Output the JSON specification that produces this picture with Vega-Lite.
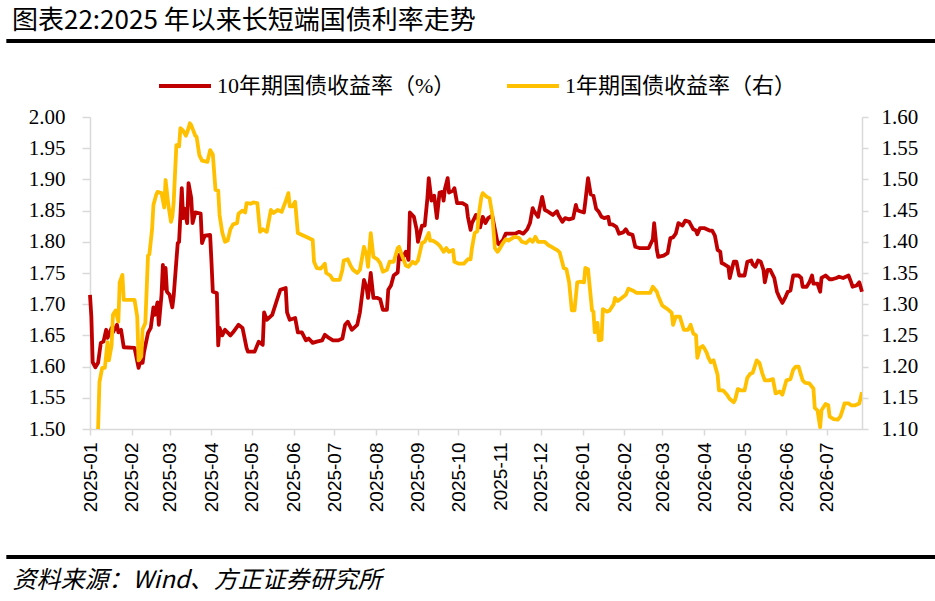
{
  "$schema": "https://vega.github.io/schema/vega-lite/v6.json",
  "width": 772,
  "height": 312,
  "autosize": {"type": "none"},
  "padding": {"left": 90, "top": 117, "right": 73, "bottom": 172},
  "background": "white",
  "title": {
    "text": "图表22:2025 年以来长短端国债利率走势",
    "anchor": "start",
    "frame": "group",
    "dx": -78,
    "offset": 5,
    "font": "Noto Sans CJK SC",
    "fontSize": 26,
    "fontWeight": "normal",
    "color": "#000000"
  },
  "datasets": {
    "cgb10": [
      {"date": "2025-01-01", "yield": 1.715}, {"date": "2025-01-02", "yield": 1.68}, {"date": "2025-01-03", "yield": 1.607},
      {"date": "2025-01-05", "yield": 1.599}, {"date": "2025-01-07", "yield": 1.606}, {"date": "2025-01-09", "yield": 1.638},
      {"date": "2025-01-11", "yield": 1.64}, {"date": "2025-01-13", "yield": 1.659}, {"date": "2025-01-14", "yield": 1.646},
      {"date": "2025-01-17", "yield": 1.662}, {"date": "2025-01-18", "yield": 1.655}, {"date": "2025-01-21", "yield": 1.667},
      {"date": "2025-01-22", "yield": 1.655}, {"date": "2025-01-24", "yield": 1.659}, {"date": "2025-01-26", "yield": 1.631},
      {"date": "2025-02-03", "yield": 1.63}, {"date": "2025-02-06", "yield": 1.598}, {"date": "2025-02-07", "yield": 1.606},
      {"date": "2025-02-09", "yield": 1.606}, {"date": "2025-02-10", "yield": 1.623}, {"date": "2025-02-13", "yield": 1.654},
      {"date": "2025-02-15", "yield": 1.662}, {"date": "2025-02-17", "yield": 1.695}, {"date": "2025-02-18", "yield": 1.683},
      {"date": "2025-02-20", "yield": 1.703}, {"date": "2025-02-21", "yield": 1.667}, {"date": "2025-02-23", "yield": 1.715},
      {"date": "2025-02-24", "yield": 1.763}, {"date": "2025-02-25", "yield": 1.725}, {"date": "2025-02-26", "yield": 1.758},
      {"date": "2025-02-27", "yield": 1.72}, {"date": "2025-03-01", "yield": 1.715}, {"date": "2025-03-03", "yield": 1.695},
      {"date": "2025-03-04", "yield": 1.713}, {"date": "2025-03-07", "yield": 1.798}, {"date": "2025-03-08", "yield": 1.80},
      {"date": "2025-03-10", "yield": 1.886}, {"date": "2025-03-11", "yield": 1.838}, {"date": "2025-03-12", "yield": 1.853},
      {"date": "2025-03-14", "yield": 1.83}, {"date": "2025-03-15", "yield": 1.894}, {"date": "2025-03-17", "yield": 1.87},
      {"date": "2025-03-18", "yield": 1.83}, {"date": "2025-03-20", "yield": 1.847}, {"date": "2025-03-24", "yield": 1.845},
      {"date": "2025-03-25", "yield": 1.798}, {"date": "2025-03-27", "yield": 1.81}, {"date": "2025-03-31", "yield": 1.811},
      {"date": "2025-04-01", "yield": 1.768}, {"date": "2025-04-02", "yield": 1.72}, {"date": "2025-04-05", "yield": 1.718},
      {"date": "2025-04-06", "yield": 1.634}, {"date": "2025-04-07", "yield": 1.662}, {"date": "2025-04-09", "yield": 1.65},
      {"date": "2025-04-11", "yield": 1.659}, {"date": "2025-04-15", "yield": 1.65}, {"date": "2025-04-17", "yield": 1.655},
      {"date": "2025-04-21", "yield": 1.667}, {"date": "2025-04-24", "yield": 1.662}, {"date": "2025-04-27", "yield": 1.63},
      {"date": "2025-04-28", "yield": 1.624}, {"date": "2025-05-03", "yield": 1.624}, {"date": "2025-05-06", "yield": 1.64},
      {"date": "2025-05-09", "yield": 1.635}, {"date": "2025-05-10", "yield": 1.687}, {"date": "2025-05-12", "yield": 1.675},
      {"date": "2025-05-16", "yield": 1.683}, {"date": "2025-05-20", "yield": 1.71}, {"date": "2025-05-22", "yield": 1.723},
      {"date": "2025-05-26", "yield": 1.726}, {"date": "2025-05-27", "yield": 1.687}, {"date": "2025-05-29", "yield": 1.675},
      {"date": "2025-06-02", "yield": 1.678}, {"date": "2025-06-04", "yield": 1.655}, {"date": "2025-06-07", "yield": 1.655},
      {"date": "2025-06-10", "yield": 1.642}, {"date": "2025-06-12", "yield": 1.645}, {"date": "2025-06-15", "yield": 1.638},
      {"date": "2025-06-18", "yield": 1.64}, {"date": "2025-06-22", "yield": 1.642}, {"date": "2025-06-24", "yield": 1.651},
      {"date": "2025-06-27", "yield": 1.646}, {"date": "2025-06-30", "yield": 1.642}, {"date": "2025-07-04", "yield": 1.642},
      {"date": "2025-07-07", "yield": 1.645}, {"date": "2025-07-09", "yield": 1.667}, {"date": "2025-07-11", "yield": 1.672},
      {"date": "2025-07-14", "yield": 1.659}, {"date": "2025-07-18", "yield": 1.667}, {"date": "2025-07-20", "yield": 1.687},
      {"date": "2025-07-23", "yield": 1.739}, {"date": "2025-07-25", "yield": 1.726}, {"date": "2025-07-26", "yield": 1.71},
      {"date": "2025-07-28", "yield": 1.75}, {"date": "2025-07-30", "yield": 1.71}, {"date": "2025-08-02", "yield": 1.71},
      {"date": "2025-08-04", "yield": 1.708}, {"date": "2025-08-06", "yield": 1.691}, {"date": "2025-08-09", "yield": 1.691},
      {"date": "2025-08-10", "yield": 1.723}, {"date": "2025-08-12", "yield": 1.73}, {"date": "2025-08-14", "yield": 1.746},
      {"date": "2025-08-17", "yield": 1.751}, {"date": "2025-08-18", "yield": 1.779}, {"date": "2025-08-20", "yield": 1.772},
      {"date": "2025-08-23", "yield": 1.784}, {"date": "2025-08-25", "yield": 1.771}, {"date": "2025-08-26", "yield": 1.847},
      {"date": "2025-08-29", "yield": 1.84}, {"date": "2025-08-31", "yield": 1.82}, {"date": "2025-09-01", "yield": 1.80},
      {"date": "2025-09-04", "yield": 1.826}, {"date": "2025-09-06", "yield": 1.826}, {"date": "2025-09-08", "yield": 1.87},
      {"date": "2025-09-09", "yield": 1.902}, {"date": "2025-09-11", "yield": 1.866}, {"date": "2025-09-13", "yield": 1.874},
      {"date": "2025-09-15", "yield": 1.838}, {"date": "2025-09-17", "yield": 1.879}, {"date": "2025-09-19", "yield": 1.88},
      {"date": "2025-09-20", "yield": 1.866}, {"date": "2025-09-21", "yield": 1.885}, {"date": "2025-09-23", "yield": 1.902},
      {"date": "2025-09-24", "yield": 1.879}, {"date": "2025-09-27", "yield": 1.882}, {"date": "2025-09-28", "yield": 1.886},
      {"date": "2025-09-30", "yield": 1.862}, {"date": "2025-10-04", "yield": 1.862}, {"date": "2025-10-07", "yield": 1.858},
      {"date": "2025-10-08", "yield": 1.84}, {"date": "2025-10-10", "yield": 1.819}, {"date": "2025-10-11", "yield": 1.83},
      {"date": "2025-10-14", "yield": 1.843}, {"date": "2025-10-16", "yield": 1.835}, {"date": "2025-10-17", "yield": 1.823},
      {"date": "2025-10-19", "yield": 1.84}, {"date": "2025-10-21", "yield": 1.83}, {"date": "2025-10-23", "yield": 1.838},
      {"date": "2025-10-26", "yield": 1.842}, {"date": "2025-10-28", "yield": 1.82}, {"date": "2025-10-30", "yield": 1.798},
      {"date": "2025-10-31", "yield": 1.796}, {"date": "2025-11-03", "yield": 1.803}, {"date": "2025-11-05", "yield": 1.813},
      {"date": "2025-11-09", "yield": 1.813}, {"date": "2025-11-12", "yield": 1.813}, {"date": "2025-11-15", "yield": 1.816},
      {"date": "2025-11-18", "yield": 1.813}, {"date": "2025-11-21", "yield": 1.82}, {"date": "2025-11-23", "yield": 1.83},
      {"date": "2025-11-25", "yield": 1.854}, {"date": "2025-11-26", "yield": 1.849}, {"date": "2025-11-29", "yield": 1.84},
      {"date": "2025-11-30", "yield": 1.852}, {"date": "2025-12-02", "yield": 1.872}, {"date": "2025-12-04", "yield": 1.851},
      {"date": "2025-12-06", "yield": 1.849}, {"date": "2025-12-08", "yield": 1.846}, {"date": "2025-12-10", "yield": 1.843},
      {"date": "2025-12-13", "yield": 1.849}, {"date": "2025-12-14", "yield": 1.843}, {"date": "2025-12-17", "yield": 1.832},
      {"date": "2025-12-19", "yield": 1.838}, {"date": "2025-12-22", "yield": 1.836}, {"date": "2025-12-25", "yield": 1.838},
      {"date": "2025-12-27", "yield": 1.859}, {"date": "2025-12-28", "yield": 1.851}, {"date": "2025-12-30", "yield": 1.849},
      {"date": "2026-01-02", "yield": 1.847}, {"date": "2026-01-03", "yield": 1.864}, {"date": "2026-01-05", "yield": 1.902},
      {"date": "2026-01-07", "yield": 1.876}, {"date": "2026-01-09", "yield": 1.874}, {"date": "2026-01-11", "yield": 1.853},
      {"date": "2026-01-13", "yield": 1.848}, {"date": "2026-01-15", "yield": 1.84}, {"date": "2026-01-17", "yield": 1.838},
      {"date": "2026-01-20", "yield": 1.84}, {"date": "2026-01-21", "yield": 1.828}, {"date": "2026-01-23", "yield": 1.828},
      {"date": "2026-01-26", "yield": 1.824}, {"date": "2026-01-28", "yield": 1.813}, {"date": "2026-01-31", "yield": 1.815},
      {"date": "2026-02-02", "yield": 1.82}, {"date": "2026-02-04", "yield": 1.813}, {"date": "2026-02-07", "yield": 1.811},
      {"date": "2026-02-09", "yield": 1.792}, {"date": "2026-02-12", "yield": 1.79}, {"date": "2026-02-15", "yield": 1.79},
      {"date": "2026-02-19", "yield": 1.79}, {"date": "2026-02-22", "yield": 1.804}, {"date": "2026-02-23", "yield": 1.83},
      {"date": "2026-02-25", "yield": 1.787}, {"date": "2026-02-26", "yield": 1.776}, {"date": "2026-03-02", "yield": 1.778},
      {"date": "2026-03-05", "yield": 1.782}, {"date": "2026-03-07", "yield": 1.806}, {"date": "2026-03-09", "yield": 1.807},
      {"date": "2026-03-11", "yield": 1.813}, {"date": "2026-03-13", "yield": 1.83}, {"date": "2026-03-16", "yield": 1.826},
      {"date": "2026-03-18", "yield": 1.834}, {"date": "2026-03-21", "yield": 1.832}, {"date": "2026-03-24", "yield": 1.82},
      {"date": "2026-03-26", "yield": 1.818}, {"date": "2026-03-27", "yield": 1.812}, {"date": "2026-03-29", "yield": 1.822},
      {"date": "2026-04-01", "yield": 1.822}, {"date": "2026-04-03", "yield": 1.82}, {"date": "2026-04-05", "yield": 1.818},
      {"date": "2026-04-07", "yield": 1.818}, {"date": "2026-04-09", "yield": 1.81}, {"date": "2026-04-11", "yield": 1.787},
      {"date": "2026-04-13", "yield": 1.784}, {"date": "2026-04-14", "yield": 1.766}, {"date": "2026-04-16", "yield": 1.764},
      {"date": "2026-04-19", "yield": 1.76}, {"date": "2026-04-20", "yield": 1.742}, {"date": "2026-04-22", "yield": 1.76},
      {"date": "2026-04-23", "yield": 1.768}, {"date": "2026-04-25", "yield": 1.768}, {"date": "2026-04-27", "yield": 1.746},
      {"date": "2026-05-01", "yield": 1.746}, {"date": "2026-05-03", "yield": 1.768}, {"date": "2026-05-06", "yield": 1.77},
      {"date": "2026-05-07", "yield": 1.764}, {"date": "2026-05-09", "yield": 1.76}, {"date": "2026-05-11", "yield": 1.77},
      {"date": "2026-05-13", "yield": 1.768}, {"date": "2026-05-15", "yield": 1.755}, {"date": "2026-05-16", "yield": 1.735},
      {"date": "2026-05-18", "yield": 1.755}, {"date": "2026-05-20", "yield": 1.755}, {"date": "2026-05-23", "yield": 1.742},
      {"date": "2026-05-25", "yield": 1.72}, {"date": "2026-05-27", "yield": 1.71}, {"date": "2026-05-29", "yield": 1.702},
      {"date": "2026-05-31", "yield": 1.71}, {"date": "2026-06-02", "yield": 1.72}, {"date": "2026-06-04", "yield": 1.722},
      {"date": "2026-06-06", "yield": 1.746}, {"date": "2026-06-10", "yield": 1.746}, {"date": "2026-06-12", "yield": 1.742},
      {"date": "2026-06-13", "yield": 1.728}, {"date": "2026-06-16", "yield": 1.728}, {"date": "2026-06-18", "yield": 1.735},
      {"date": "2026-06-20", "yield": 1.746}, {"date": "2026-06-21", "yield": 1.733}, {"date": "2026-06-24", "yield": 1.733},
      {"date": "2026-06-26", "yield": 1.72}, {"date": "2026-06-27", "yield": 1.742}, {"date": "2026-06-30", "yield": 1.746},
      {"date": "2026-07-03", "yield": 1.74}, {"date": "2026-07-05", "yield": 1.74}, {"date": "2026-07-08", "yield": 1.742},
      {"date": "2026-07-10", "yield": 1.744}, {"date": "2026-07-13", "yield": 1.742}, {"date": "2026-07-15", "yield": 1.744},
      {"date": "2026-07-17", "yield": 1.746}, {"date": "2026-07-19", "yield": 1.735}, {"date": "2026-07-20", "yield": 1.728},
      {"date": "2026-07-23", "yield": 1.73}, {"date": "2026-07-25", "yield": 1.735}, {"date": "2026-07-27", "yield": 1.72}
    ],
    "cgb1": [
      {"date": "2025-01-01", "yield": 1.10}, {"date": "2025-01-03", "yield": 1.07}, {"date": "2025-01-06", "yield": 1.09},
      {"date": "2025-01-07", "yield": 1.10}, {"date": "2025-01-08", "yield": 1.175}, {"date": "2025-01-10", "yield": 1.198},
      {"date": "2025-01-12", "yield": 1.198}, {"date": "2025-01-14", "yield": 1.239}, {"date": "2025-01-15", "yield": 1.21},
      {"date": "2025-01-17", "yield": 1.234}, {"date": "2025-01-18", "yield": 1.283}, {"date": "2025-01-20", "yield": 1.29},
      {"date": "2025-01-22", "yield": 1.272}, {"date": "2025-01-23", "yield": 1.335}, {"date": "2025-01-25", "yield": 1.347},
      {"date": "2025-01-26", "yield": 1.307}, {"date": "2025-02-03", "yield": 1.307}, {"date": "2025-02-05", "yield": 1.28},
      {"date": "2025-02-06", "yield": 1.21}, {"date": "2025-02-08", "yield": 1.216}, {"date": "2025-02-09", "yield": 1.26},
      {"date": "2025-02-11", "yield": 1.27}, {"date": "2025-02-13", "yield": 1.378}, {"date": "2025-02-14", "yield": 1.38},
      {"date": "2025-02-16", "yield": 1.42}, {"date": "2025-02-17", "yield": 1.459}, {"date": "2025-02-19", "yield": 1.475},
      {"date": "2025-02-20", "yield": 1.48}, {"date": "2025-02-23", "yield": 1.478}, {"date": "2025-02-25", "yield": 1.455},
      {"date": "2025-02-26", "yield": 1.499}, {"date": "2025-02-28", "yield": 1.46}, {"date": "2025-03-02", "yield": 1.432},
      {"date": "2025-03-03", "yield": 1.44}, {"date": "2025-03-04", "yield": 1.463}, {"date": "2025-03-06", "yield": 1.555},
      {"date": "2025-03-08", "yield": 1.553}, {"date": "2025-03-09", "yield": 1.582}, {"date": "2025-03-11", "yield": 1.578},
      {"date": "2025-03-13", "yield": 1.57}, {"date": "2025-03-14", "yield": 1.575}, {"date": "2025-03-16", "yield": 1.59},
      {"date": "2025-03-17", "yield": 1.587}, {"date": "2025-03-20", "yield": 1.57}, {"date": "2025-03-21", "yield": 1.568},
      {"date": "2025-03-23", "yield": 1.539}, {"date": "2025-03-25", "yield": 1.53}, {"date": "2025-03-29", "yield": 1.528},
      {"date": "2025-03-31", "yield": 1.547}, {"date": "2025-04-02", "yield": 1.54}, {"date": "2025-04-04", "yield": 1.483},
      {"date": "2025-04-06", "yield": 1.482}, {"date": "2025-04-07", "yield": 1.443}, {"date": "2025-04-09", "yield": 1.415},
      {"date": "2025-04-11", "yield": 1.40}, {"date": "2025-04-13", "yield": 1.402}, {"date": "2025-04-15", "yield": 1.42},
      {"date": "2025-04-17", "yield": 1.428}, {"date": "2025-04-20", "yield": 1.43}, {"date": "2025-04-21", "yield": 1.445},
      {"date": "2025-04-24", "yield": 1.45}, {"date": "2025-04-26", "yield": 1.447}, {"date": "2025-04-27", "yield": 1.462},
      {"date": "2025-04-30", "yield": 1.461}, {"date": "2025-05-02", "yield": 1.463}, {"date": "2025-05-05", "yield": 1.462},
      {"date": "2025-05-07", "yield": 1.416}, {"date": "2025-05-09", "yield": 1.42}, {"date": "2025-05-12", "yield": 1.416},
      {"date": "2025-05-15", "yield": 1.451}, {"date": "2025-05-17", "yield": 1.446}, {"date": "2025-05-20", "yield": 1.451},
      {"date": "2025-05-23", "yield": 1.448}, {"date": "2025-05-26", "yield": 1.465}, {"date": "2025-05-28", "yield": 1.478},
      {"date": "2025-05-29", "yield": 1.457}, {"date": "2025-05-31", "yield": 1.457}, {"date": "2025-06-02", "yield": 1.464},
      {"date": "2025-06-04", "yield": 1.414}, {"date": "2025-06-08", "yield": 1.41}, {"date": "2025-06-12", "yield": 1.406},
      {"date": "2025-06-15", "yield": 1.403}, {"date": "2025-06-16", "yield": 1.368}, {"date": "2025-06-18", "yield": 1.358},
      {"date": "2025-06-21", "yield": 1.357}, {"date": "2025-06-24", "yield": 1.365}, {"date": "2025-06-25", "yield": 1.35},
      {"date": "2025-06-28", "yield": 1.346}, {"date": "2025-06-30", "yield": 1.339}, {"date": "2025-07-05", "yield": 1.339},
      {"date": "2025-07-07", "yield": 1.355}, {"date": "2025-07-08", "yield": 1.37}, {"date": "2025-07-11", "yield": 1.372},
      {"date": "2025-07-13", "yield": 1.362}, {"date": "2025-07-15", "yield": 1.355}, {"date": "2025-07-18", "yield": 1.35},
      {"date": "2025-07-20", "yield": 1.355}, {"date": "2025-07-23", "yield": 1.392}, {"date": "2025-07-25", "yield": 1.378},
      {"date": "2025-07-26", "yield": 1.36}, {"date": "2025-07-28", "yield": 1.414}, {"date": "2025-07-30", "yield": 1.376},
      {"date": "2025-08-02", "yield": 1.372}, {"date": "2025-08-04", "yield": 1.366}, {"date": "2025-08-06", "yield": 1.352},
      {"date": "2025-08-09", "yield": 1.355}, {"date": "2025-08-11", "yield": 1.368}, {"date": "2025-08-14", "yield": 1.368},
      {"date": "2025-08-17", "yield": 1.39}, {"date": "2025-08-18", "yield": 1.392}, {"date": "2025-08-20", "yield": 1.379},
      {"date": "2025-08-23", "yield": 1.362}, {"date": "2025-08-25", "yield": 1.36}, {"date": "2025-08-28", "yield": 1.368},
      {"date": "2025-08-30", "yield": 1.365}, {"date": "2025-09-01", "yield": 1.37}, {"date": "2025-09-04", "yield": 1.398},
      {"date": "2025-09-06", "yield": 1.40}, {"date": "2025-09-09", "yield": 1.414}, {"date": "2025-09-10", "yield": 1.402},
      {"date": "2025-09-12", "yield": 1.402}, {"date": "2025-09-15", "yield": 1.398}, {"date": "2025-09-17", "yield": 1.394},
      {"date": "2025-09-20", "yield": 1.384}, {"date": "2025-09-22", "yield": 1.39}, {"date": "2025-09-24", "yield": 1.384},
      {"date": "2025-09-27", "yield": 1.387}, {"date": "2025-09-28", "yield": 1.368}, {"date": "2025-10-01", "yield": 1.365},
      {"date": "2025-10-05", "yield": 1.365}, {"date": "2025-10-08", "yield": 1.372}, {"date": "2025-10-10", "yield": 1.372},
      {"date": "2025-10-11", "yield": 1.39}, {"date": "2025-10-13", "yield": 1.414}, {"date": "2025-10-15", "yield": 1.417},
      {"date": "2025-10-16", "yield": 1.443}, {"date": "2025-10-18", "yield": 1.472}, {"date": "2025-10-19", "yield": 1.478},
      {"date": "2025-10-22", "yield": 1.472}, {"date": "2025-10-24", "yield": 1.47}, {"date": "2025-10-26", "yield": 1.445},
      {"date": "2025-10-28", "yield": 1.39}, {"date": "2025-10-30", "yield": 1.384}, {"date": "2025-10-31", "yield": 1.387},
      {"date": "2025-11-03", "yield": 1.398}, {"date": "2025-11-05", "yield": 1.404}, {"date": "2025-11-07", "yield": 1.402},
      {"date": "2025-11-10", "yield": 1.406}, {"date": "2025-11-12", "yield": 1.408}, {"date": "2025-11-15", "yield": 1.406},
      {"date": "2025-11-17", "yield": 1.40}, {"date": "2025-11-20", "yield": 1.398}, {"date": "2025-11-23", "yield": 1.404},
      {"date": "2025-11-25", "yield": 1.40}, {"date": "2025-11-27", "yield": 1.408}, {"date": "2025-11-29", "yield": 1.40},
      {"date": "2025-12-02", "yield": 1.40}, {"date": "2025-12-04", "yield": 1.40}, {"date": "2025-12-07", "yield": 1.394},
      {"date": "2025-12-09", "yield": 1.392}, {"date": "2025-12-12", "yield": 1.388}, {"date": "2025-12-13", "yield": 1.387},
      {"date": "2025-12-15", "yield": 1.383}, {"date": "2025-12-18", "yield": 1.358}, {"date": "2025-12-20", "yield": 1.356},
      {"date": "2025-12-22", "yield": 1.335}, {"date": "2025-12-24", "yield": 1.29}, {"date": "2025-12-26", "yield": 1.29},
      {"date": "2025-12-28", "yield": 1.335}, {"date": "2025-12-30", "yield": 1.336}, {"date": "2026-01-02", "yield": 1.335},
      {"date": "2026-01-03", "yield": 1.358}, {"date": "2026-01-05", "yield": 1.356}, {"date": "2026-01-08", "yield": 1.29},
      {"date": "2026-01-09", "yield": 1.288}, {"date": "2026-01-10", "yield": 1.255}, {"date": "2026-01-12", "yield": 1.27},
      {"date": "2026-01-13", "yield": 1.242}, {"date": "2026-01-15", "yield": 1.243}, {"date": "2026-01-16", "yield": 1.292},
      {"date": "2026-01-19", "yield": 1.288}, {"date": "2026-01-21", "yield": 1.29}, {"date": "2026-01-24", "yield": 1.30},
      {"date": "2026-01-25", "yield": 1.31}, {"date": "2026-01-27", "yield": 1.305}, {"date": "2026-01-30", "yield": 1.31},
      {"date": "2026-02-02", "yield": 1.315}, {"date": "2026-02-04", "yield": 1.325}, {"date": "2026-02-07", "yield": 1.322},
      {"date": "2026-02-10", "yield": 1.318}, {"date": "2026-02-15", "yield": 1.318}, {"date": "2026-02-20", "yield": 1.318},
      {"date": "2026-02-22", "yield": 1.328}, {"date": "2026-02-25", "yield": 1.32}, {"date": "2026-02-26", "yield": 1.313},
      {"date": "2026-03-01", "yield": 1.298}, {"date": "2026-03-03", "yield": 1.295}, {"date": "2026-03-05", "yield": 1.292},
      {"date": "2026-03-08", "yield": 1.286}, {"date": "2026-03-09", "yield": 1.267}, {"date": "2026-03-11", "yield": 1.28},
      {"date": "2026-03-14", "yield": 1.28}, {"date": "2026-03-17", "yield": 1.259}, {"date": "2026-03-20", "yield": 1.259},
      {"date": "2026-03-22", "yield": 1.267}, {"date": "2026-03-24", "yield": 1.253}, {"date": "2026-03-26", "yield": 1.25},
      {"date": "2026-03-27", "yield": 1.214}, {"date": "2026-03-29", "yield": 1.23}, {"date": "2026-03-31", "yield": 1.233},
      {"date": "2026-04-01", "yield": 1.23}, {"date": "2026-04-03", "yield": 1.222}, {"date": "2026-04-04", "yield": 1.215},
      {"date": "2026-04-06", "yield": 1.207}, {"date": "2026-04-08", "yield": 1.21}, {"date": "2026-04-11", "yield": 1.187},
      {"date": "2026-04-12", "yield": 1.162}, {"date": "2026-04-15", "yield": 1.162}, {"date": "2026-04-18", "yield": 1.155},
      {"date": "2026-04-20", "yield": 1.148}, {"date": "2026-04-23", "yield": 1.143}, {"date": "2026-04-24", "yield": 1.147},
      {"date": "2026-04-26", "yield": 1.164}, {"date": "2026-04-28", "yield": 1.162}, {"date": "2026-05-01", "yield": 1.162},
      {"date": "2026-05-03", "yield": 1.182}, {"date": "2026-05-05", "yield": 1.188}, {"date": "2026-05-07", "yield": 1.19},
      {"date": "2026-05-10", "yield": 1.21}, {"date": "2026-05-12", "yield": 1.206}, {"date": "2026-05-14", "yield": 1.19},
      {"date": "2026-05-16", "yield": 1.178}, {"date": "2026-05-19", "yield": 1.178}, {"date": "2026-05-22", "yield": 1.18},
      {"date": "2026-05-24", "yield": 1.157}, {"date": "2026-05-27", "yield": 1.16}, {"date": "2026-05-29", "yield": 1.155},
      {"date": "2026-06-01", "yield": 1.178}, {"date": "2026-06-04", "yield": 1.18}, {"date": "2026-06-06", "yield": 1.195},
      {"date": "2026-06-08", "yield": 1.20}, {"date": "2026-06-10", "yield": 1.20}, {"date": "2026-06-13", "yield": 1.178},
      {"date": "2026-06-15", "yield": 1.174}, {"date": "2026-06-18", "yield": 1.173}, {"date": "2026-06-21", "yield": 1.165},
      {"date": "2026-06-22", "yield": 1.134}, {"date": "2026-06-24", "yield": 1.13}, {"date": "2026-06-26", "yield": 1.103},
      {"date": "2026-06-27", "yield": 1.13}, {"date": "2026-06-30", "yield": 1.14}, {"date": "2026-07-02", "yield": 1.138},
      {"date": "2026-07-03", "yield": 1.12}, {"date": "2026-07-06", "yield": 1.116}, {"date": "2026-07-09", "yield": 1.115},
      {"date": "2026-07-11", "yield": 1.12}, {"date": "2026-07-13", "yield": 1.133}, {"date": "2026-07-14", "yield": 1.141},
      {"date": "2026-07-17", "yield": 1.141}, {"date": "2026-07-19", "yield": 1.138}, {"date": "2026-07-22", "yield": 1.138},
      {"date": "2026-07-25", "yield": 1.141}, {"date": "2026-07-27", "yield": 1.159}
    ]
  },
  "layer": [
    {
      "data": {"name": "cgb10"},
      "mark": {"type": "line", "strokeWidth": 3.8, "strokeJoin": "round"},
      "encoding": {
        "x": {
          "field": "date",
          "type": "temporal",
          "scale": {"domain": [{"year": 2025, "month": 1, "date": 1}, {"year": 2026, "month": 7, "date": 27}]},
          "axis": {
            "format": "%Y-%m",
            "tickCount": {"interval": "month", "step": 1},
            "labelAngle": -90,
            "labelOverlap": false,
            "labelFlush": false,
            "labelFont": "Liberation Sans",
            "labelFontSize": 19,
            "labelColor": "#000000",
            "labelPadding": 7,
            "tickSize": 6,
            "title": "资料来源：Wind、方正证券研究所",
            "titleX": -78,
            "titleY": 151,
            "titleAlign": "left",
            "titleBaseline": "middle",
            "titleFont": "Noto Sans CJK SC",
            "titleFontStyle": "italic",
            "titleFontSize": 24,
            "titleFontWeight": "normal",
            "titleColor": "#000000"
          }
        },
        "y": {
          "field": "yield",
          "type": "quantitative",
          "scale": {"domain": [1.5, 2.0], "zero": false, "nice": false},
          "axis": {
            "orient": "left",
            "title": null,
            "values": [1.5, 1.55, 1.6, 1.65, 1.7, 1.75, 1.8, 1.85, 1.9, 1.95, 2.0],
            "format": ".2f",
            "labelOverlap": false,
            "labelFont": "Liberation Serif, Times New Roman, serif",
            "labelFontSize": 21,
            "labelColor": "#000000",
            "tickSize": 8,
            "labelPadding": 17
          }
        },
        "color": {"datum": "10年期国债收益率（%）"}
      }
    },
    {
      "data": {"name": "cgb1"},
      "mark": {"type": "line", "strokeWidth": 3.8, "strokeJoin": "round", "clip": true},
      "encoding": {
        "x": {"field": "date", "type": "temporal"},
        "y": {
          "field": "yield",
          "type": "quantitative",
          "scale": {"domain": [1.1, 1.6], "zero": false, "nice": false},
          "axis": {
            "orient": "right",
            "title": null,
            "values": [1.1, 1.15, 1.2, 1.25, 1.3, 1.35, 1.4, 1.45, 1.5, 1.55, 1.6],
            "format": ".2f",
            "labelOverlap": false,
            "labelFont": "Liberation Serif, Times New Roman, serif",
            "labelFontSize": 21,
            "labelColor": "#000000",
            "tickSize": 6,
            "labelPadding": 13
          }
        },
        "color": {
          "datum": "1年期国债收益率（右）",
          "scale": {
            "domain": ["10年期国债收益率（%）", "1年期国债收益率（右）"],
            "range": ["#C00000", "#FFC000"]
          },
          "legend": {
            "orient": "none",
            "legendX": 67,
            "legendY": -59,
            "direction": "horizontal",
            "title": null,
            "symbolType": "stroke",
            "symbolSize": 2704,
            "symbolStrokeWidth": 4,
            "labelFont": "Liberation Serif, Noto Sans CJK SC",
            "labelFontSize": 22,
            "labelColor": "#000000",
            "labelLimit": 400,
            "labelOffset": 4,
            "columnPadding": 43
          }
        }
      }
    },
    {
      "data": {"values": [{}]},
      "mark": {"type": "rule", "strokeWidth": 4, "color": "#000000"},
      "encoding": {
        "x": {"datum": {"year": 2024, "month": 10, "date": 31}, "type": "temporal"},
        "x2": {"datum": {"year": 2026, "month": 9, "date": 20}},
        "y": {"datum": 2.1218, "type": "quantitative", "scale": {"domain": [1.5, 2.0], "zero": false, "nice": false}, "axis": null}
      }
    },
    {
      "data": {"values": [{}]},
      "mark": {"type": "rule", "strokeWidth": 4, "color": "#000000"},
      "encoding": {
        "x": {"datum": {"year": 2024, "month": 10, "date": 31}, "type": "temporal"},
        "x2": {"datum": {"year": 2026, "month": 9, "date": 20}},
        "y": {"datum": 1.295, "type": "quantitative", "scale": {"domain": [1.5, 2.0], "zero": false, "nice": false}, "axis": null}
      }
    }
  ],
  "resolve": {"scale": {"y": "independent"}},
  "config": {
    "view": {"stroke": null},
    "axis": {
      "grid": false,
      "domainColor": "#D9D9D9",
      "domainWidth": 1.5,
      "tickColor": "#D9D9D9",
      "tickWidth": 1.5
    }
  }
}
